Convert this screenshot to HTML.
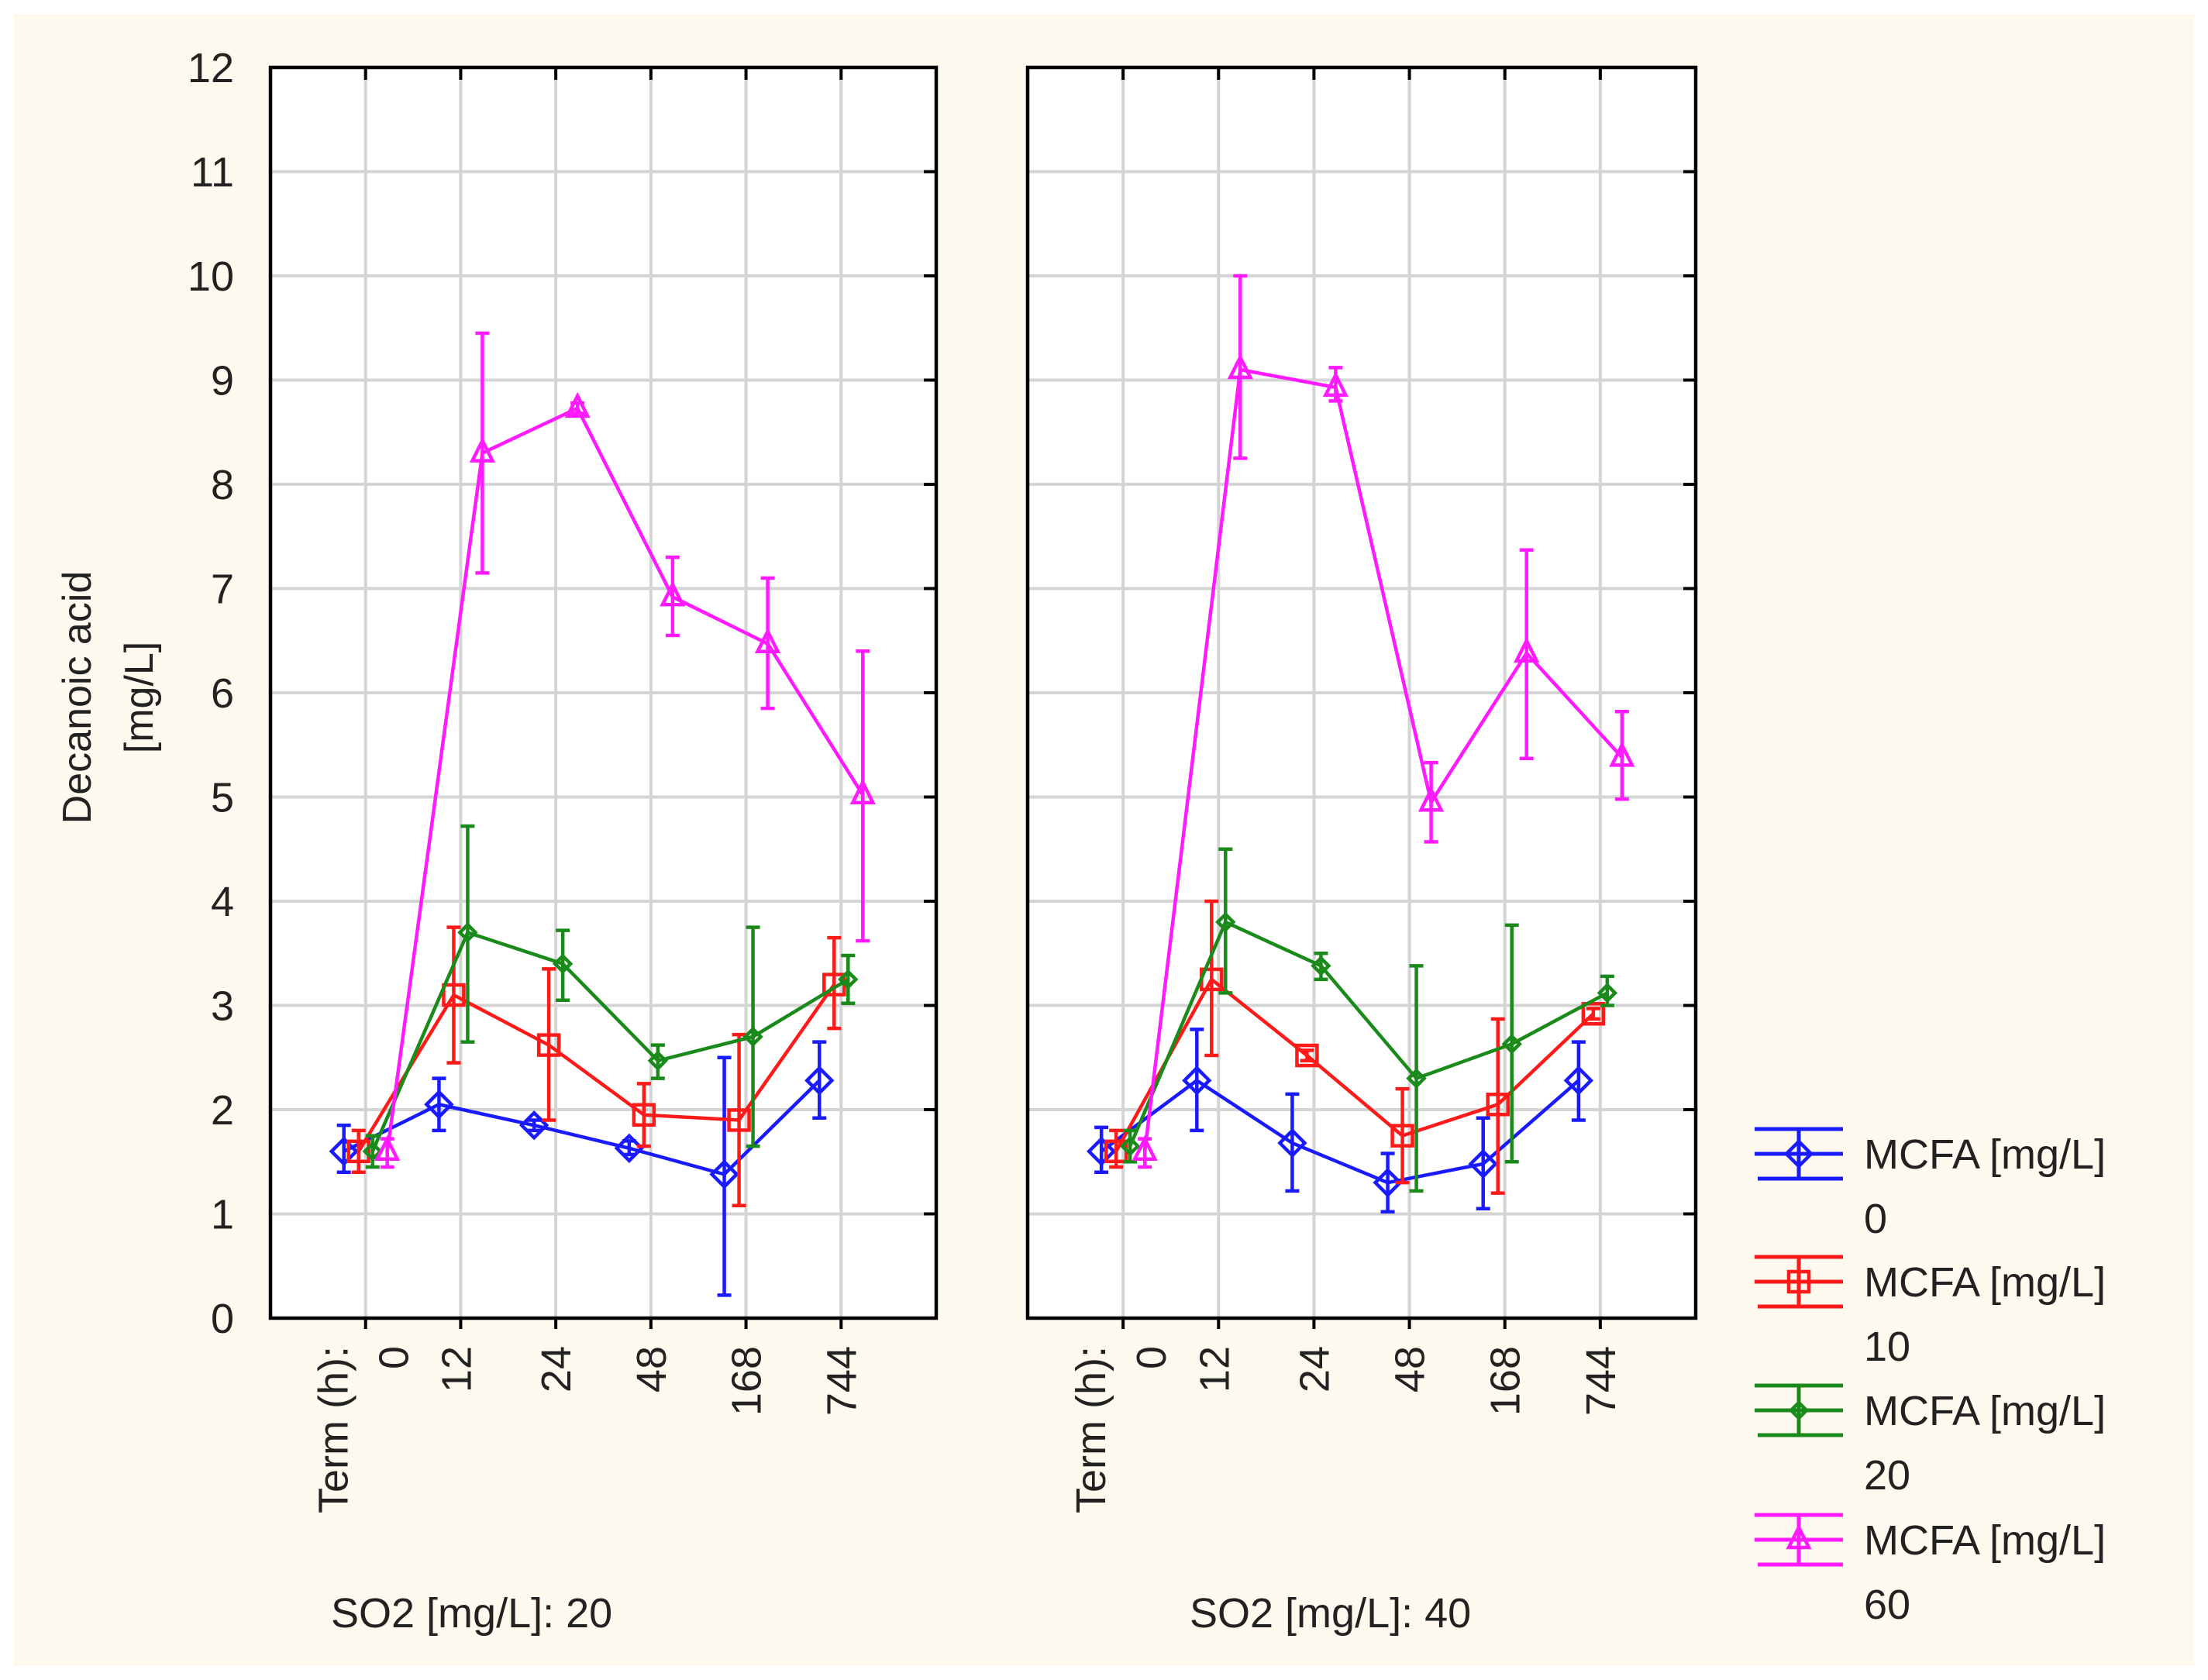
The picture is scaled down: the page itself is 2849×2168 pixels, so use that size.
<!DOCTYPE html>
<html><head><meta charset="utf-8"><style>
html,body{margin:0;padding:0;background:#fff}
svg{display:block}
text{font-family:"Liberation Sans",sans-serif;fill:#222}
</style></head><body>
<svg id="chart" width="2849" height="2168" viewBox="0 0 2849 2168" xmlns="http://www.w3.org/2000/svg">
<rect x="18" y="18" width="2813" height="2132" fill="#fdf9ee"/>
<g id="plots"></g>
<text transform="translate(117,900) rotate(-90)" text-anchor="middle" font-size="52">Decanoic acid</text>
<text transform="translate(197,900) rotate(-90)" text-anchor="middle" font-size="52">[mg/L]</text>
<text x="427" y="2100" font-size="54">SO2 [mg/L]: 20</text>
<text x="1535" y="2100" font-size="54">SO2 [mg/L]: 40</text>
<g id="legend"></g>
</svg>
<script>
const categories = ["0","12","24","48","168","744"];
const yTicks = [0,1,2,3,4,5,6,7,8,9,10,11,12];
const seriesNames = ["0","10","20","60"];
// Panel SO2 20
const p1Blue = [1.6,2.05,1.85,1.63,1.38,2.28];
const p1BlueLo = [1.4,1.8,1.8,1.57,0.22,1.92];
const p1BlueHi = [1.85,2.3,1.9,1.7,2.5,2.65];
const p1Red = [1.6,3.1,2.62,1.95,1.9,3.2];
const p1RedLo = [1.4,2.45,1.9,1.65,1.08,2.78];
const p1RedHi = [1.8,3.75,3.35,2.25,2.72,3.65];
const p1Green = [1.6,3.7,3.4,2.47,2.7,3.25];
const p1GreenLo = [1.45,2.65,3.05,2.3,1.65,3.02];
const p1GreenHi = [1.75,4.72,3.72,2.62,3.75,3.48];
const p1Mag = [1.6,8.3,8.73,6.92,6.47,5.02];
const p1MagLo = [1.45,7.15,8.68,6.55,5.85,3.62];
const p1MagHi = [1.72,9.45,8.78,7.3,7.1,6.4];
// Panel SO2 40
const p2Blue = [1.6,2.28,1.68,1.3,1.48,2.28];
const p2BlueLo = [1.4,1.8,1.22,1.02,1.05,1.9];
const p2BlueHi = [1.83,2.77,2.15,1.58,1.92,2.65];
const p2Red = [1.6,3.25,2.52,1.75,2.05,2.92];
const p2RedLo = [1.45,2.52,2.47,1.3,1.2,2.87];
const p2RedHi = [1.8,4.0,2.57,2.2,2.87,2.97];
const p2Green = [1.65,3.8,3.38,2.3,2.63,3.12];
const p2GreenLo = [1.5,3.12,3.25,1.22,1.5,3.0];
const p2GreenHi = [1.8,4.5,3.5,3.38,3.77,3.28];
const p2Mag = [1.6,9.1,8.93,4.95,6.38,5.38];
const p2MagLo = [1.45,8.25,8.8,4.57,5.37,4.98];
const p2MagHi = [1.72,10.0,9.12,5.33,7.37,5.82];

const NS="http://www.w3.org/2000/svg";
const colors=["#1a1aff","#ff1a1a","#1a8a1a","#ff1aff"];
const markers=["diamond","square","smalldiamond","triangle"];
const offsets=[-28,-9,9,28];
const plotTop=87,plotBottom=1701;
const SW=4.5;
function yS(v){return plotBottom-(v/12)*(plotBottom-plotTop);}
function el(tag,attrs,parent){const e=document.createElementNS(NS,tag);for(const k in attrs)e.setAttribute(k,attrs[k]);parent.appendChild(e);return e;}
function marker(g,type,x,y,c){
  let m;
  if(type==="diamond"){m=el("polygon",{points:`${x-16},${y} ${x},${y-16} ${x+16},${y} ${x},${y+16}`,fill:"none",stroke:c,"stroke-width":SW},g);}
  else if(type==="square"){m=el("rect",{x:x-13,y:y-13,width:26,height:26,fill:"none",stroke:c,"stroke-width":SW},g);}
  else if(type==="smalldiamond"){m=el("polygon",{points:`${x-10},${y} ${x},${y-10} ${x+10},${y} ${x},${y+10}`,fill:"none",stroke:c,"stroke-width":SW},g);}
  else {m=el("polygon",{points:`${x},${y-16} ${x+13},${y+10} ${x-13},${y+10}`,fill:"none",stroke:c,"stroke-width":SW},g);}
  
  
}
const plots=document.getElementById("plots");
const panels=[
 {x0:349,x1:1208,name:"panel-so2-20",labels:true,data:[[p1Blue,p1BlueLo,p1BlueHi],[p1Red,p1RedLo,p1RedHi],[p1Green,p1GreenLo,p1GreenHi],[p1Mag,p1MagLo,p1MagHi]]},
 {x0:1326,x1:2188,name:"panel-so2-40",labels:false,data:[[p2Blue,p2BlueLo,p2BlueHi],[p2Red,p2RedLo,p2RedHi],[p2Green,p2GreenLo,p2GreenHi],[p2Mag,p2MagLo,p2MagHi]]}
];
panels.forEach(p=>{
  const g=el("g",{},plots);
  
  
  const W=p.x1-p.x0;
  const xS=i=>p.x0+(i+1)*W/7;
  const bg=el("rect",{x:p.x0,y:plotTop,width:W,height:plotBottom-plotTop,fill:"#fff"},g);
  
  
  yTicks.forEach(t=>{
    if(t>0&&t<12){const l=el("line",{x1:p.x0,x2:p.x1,y1:yS(t),y2:yS(t),stroke:"#d4d4d4","stroke-width":4},g);
    
    }
    const tk=el("line",{x1:p.x1-16,x2:p.x1,y1:yS(t),y2:yS(t),stroke:"#000","stroke-width":4},g);
    
    
    if(p.labels){const tx=el("text",{x:302,y:yS(t)+19,"text-anchor":"end","font-size":54},g);tx.textContent=t;
    
    }
  });
  categories.forEach((c,i)=>{
    const x=xS(i);
    const gl=el("line",{x1:x,x2:x,y1:plotTop,y2:plotBottom,stroke:"#d4d4d4","stroke-width":4},g);
    
    
    const t1=el("line",{x1:x,x2:x,y1:plotTop,y2:plotTop+16,stroke:"#000","stroke-width":4},g);
    
    
    const t2=el("line",{x1:x,x2:x,y1:plotBottom,y2:plotBottom+14,stroke:"#000","stroke-width":4},g);
    
    
    const lx=i===0?x+36:x+(i===1?-6:0);
    const tx=el("text",{transform:`translate(${lx+19},${plotBottom+36}) rotate(-90)`,"text-anchor":"end","font-size":54},g);
    tx.textContent=c;
    
    
  });
  const tl=el("text",{transform:`translate(${xS(0)-42+19},${plotBottom+36}) rotate(-90)`,"text-anchor":"end","font-size":54},g);
  tl.textContent="Term  (h):";
  
  
  const fr=el("rect",{x:p.x0,y:plotTop,width:W,height:plotBottom-plotTop,fill:"none",stroke:"#000","stroke-width":4.5},g);
  
  
  p.data.forEach((s,si)=>{
    const [v,lo,hi]=s; const c=colors[si];
    const sg=el("g",{},g);
    
    
    const pts=v.map((d,i)=>`${xS(i)+offsets[si]},${yS(d)}`).join(" ");
    const pl=el("polyline",{points:pts,fill:"none",stroke:c,"stroke-width":SW},sg);
    
    
    v.forEach((d,i)=>{
      const x=xS(i)+offsets[si];
      const eb=el("path",{d:`M${x},${yS(lo[i])}V${yS(hi[i])}M${x-9},${yS(lo[i])}H${x+9}M${x-9},${yS(hi[i])}H${x+9}`,stroke:c,"stroke-width":SW,fill:"none"},sg);
      
      
      marker(sg,markers[i===undefined?0:si],x,yS(d),c);
    });
  });
});
const leg=document.getElementById("legend");


const legY=[1489,1654,1820,1987];
seriesNames.forEach((n,i)=>{
  const g=el("g",{},leg);
  
  
  const y=legY[i],c=colors[i],cx=2321;
  el("path",{d:`M2264,${y}H2378M2264,${y-32}H2378M2268,${y+32}H2378M${cx},${y-32}V${y+32}`,stroke:c,"stroke-width":5,fill:"none"},g);
  marker(g,markers[i],cx,y,c);
  const t=el("text",{x:2405,y:y+19,"font-size":54},g);t.textContent="MCFA [mg/L]";
  const t2=el("text",{x:2405,y:y+102,"font-size":54},g);t2.textContent=n;
});
</script>
</body></html>
